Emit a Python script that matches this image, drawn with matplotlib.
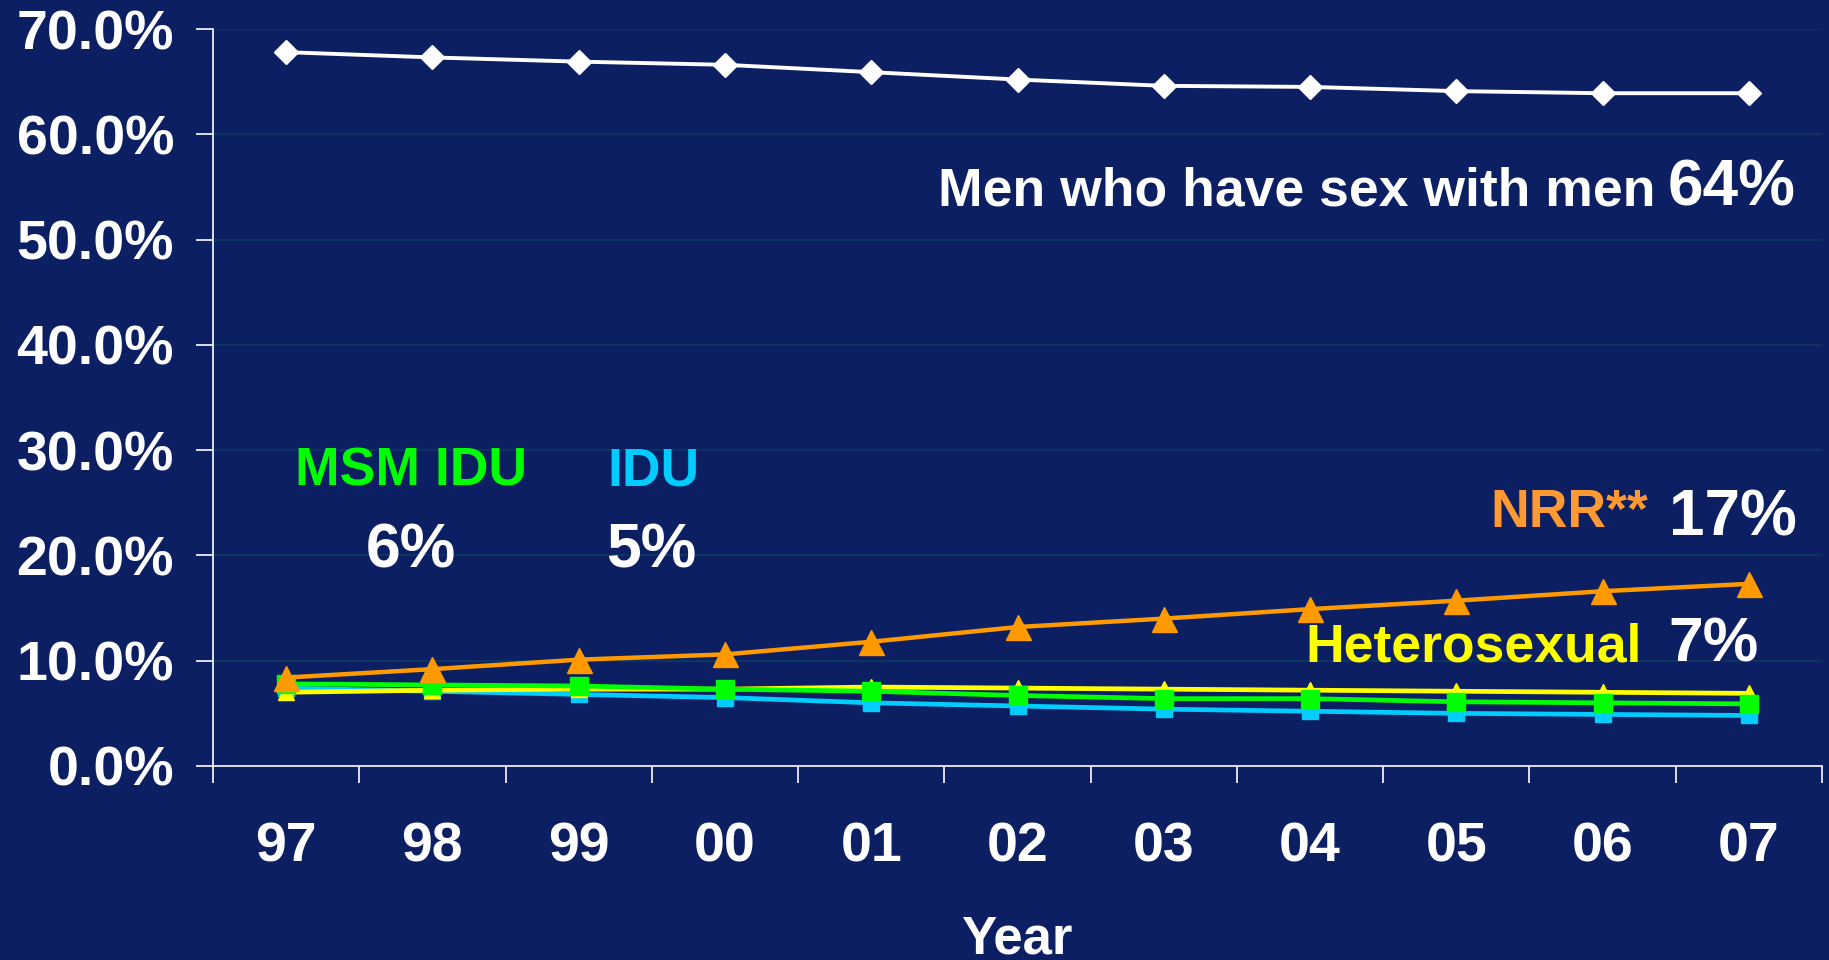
import matplotlib
matplotlib.use("Agg")
import matplotlib.pyplot as plt
import numpy as np

# values (percent of cases)
years = ["97", "98", "99", "00", "01", "02", "03", "04", "05", "06", "07"]
msm = [67.8, 67.3, 66.9, 66.6, 65.9, 65.2, 64.6, 64.5, 64.1, 63.9, 63.9]
nrr = [8.4, 9.2, 10.1, 10.6, 11.8, 13.2, 14.0, 14.9, 15.7, 16.6, 17.3]
hetero = [7.0, 7.2, 7.3, 7.3, 7.5, 7.4, 7.3, 7.2, 7.1, 7.0, 6.9]
msm_idu = [7.8, 7.7, 7.6, 7.3, 7.1, 6.7, 6.4, 6.4, 6.1, 6.0, 5.9]
idu = [7.4, 7.1, 6.8, 6.5, 6.0, 5.7, 5.4, 5.2, 5.0, 4.9, 4.8]

BG = "#0b1f62"
W, H = 1829, 960
plt.rcParams["font.family"] = ["Liberation Sans", "DejaVu Sans"]
plt.rcParams["font.weight"] = "bold"

fig = plt.figure(figsize=(W / 100, H / 100), dpi=100, facecolor=BG)
ax = fig.add_axes([213 / W, 1 - 766 / H, (1822 - 213) / W, (766 - 29) / H])
ax.set_facecolor(BG)

x = np.arange(len(years))
ax.plot(x, idu, color="#00ccff", lw=3.4, marker="s", ms=11, zorder=3)
ax.plot(x, hetero, color="#ffff00", lw=3.4, marker="^", ms=12, zorder=4)
ax.plot(x, msm_idu, color="#00ff00", lw=3.4, marker="s", ms=13, zorder=5)
ax.plot(x, nrr, color="#ff9900", lw=3.2, marker="^", ms=18, zorder=6)
ax.plot(x, msm, color="white", lw=2.8, marker="D", ms=12, zorder=7)

ax.set_xlim(-0.5, len(years) - 0.5)
ax.set_ylim(0, 70)
ax.set_yticks(np.arange(0, 71, 10))
ax.set_yticklabels([f"{v:.1f}%" for v in np.arange(0, 71, 10)])
ax.yaxis.grid(True, color="#0a3a5e", lw=1.2)
ax.set_axisbelow(True)

# tick marks on the category boundaries, labels at the centres
ax.set_xticks(np.arange(-0.5, len(years), 1.0))
ax.set_xticklabels([])
ax.set_xticks(x, minor=True)
ax.set_xticklabels(years, minor=True)
ax.tick_params(axis="x", which="major", length=12, width=1.2, color="white", direction="out")
ax.tick_params(axis="x", which="minor", length=0, pad=40, labelsize=40, labelcolor="white")
ax.tick_params(axis="y", length=12, width=1.2, color="white", pad=16, labelsize=40, labelcolor="white")

for s in ["top", "right"]:
    ax.spines[s].set_visible(False)
for s in ["left", "bottom"]:
    ax.spines[s].set_color("white")
    ax.spines[s].set_linewidth(1.2)


def label(px, py, s, color, size):
    fig.text(px / W, 1 - py / H, s, color=color, fontsize=size,
             fontweight="bold", ha="left", va="baseline")


label(938, 206, "Men who have sex with men", "white", 38.5)
label(1668, 206, "64%", "white", 46)
label(295, 485, "MSM IDU", "#00ff00", 38.5)
label(607, 485, "IDU", "#00ccff", 38.5)
label(366, 567, "6%", "white", 45)
label(606, 567, "5%", "white", 45)
label(1490, 527, "NRR**", "#ff9933", 38.5)
label(1669, 535, "17%", "white", 46)
label(1305, 662, "Heterosexual", "#ffff00", 38.5)
label(1668, 662, "7%", "white", 45)
fig.text(1017 / W, 1 - 954 / H, "Year", color="white", fontsize=38,
         fontweight="bold", ha="center", va="baseline")

fig.savefig("out.png", dpi=100, facecolor=BG)
